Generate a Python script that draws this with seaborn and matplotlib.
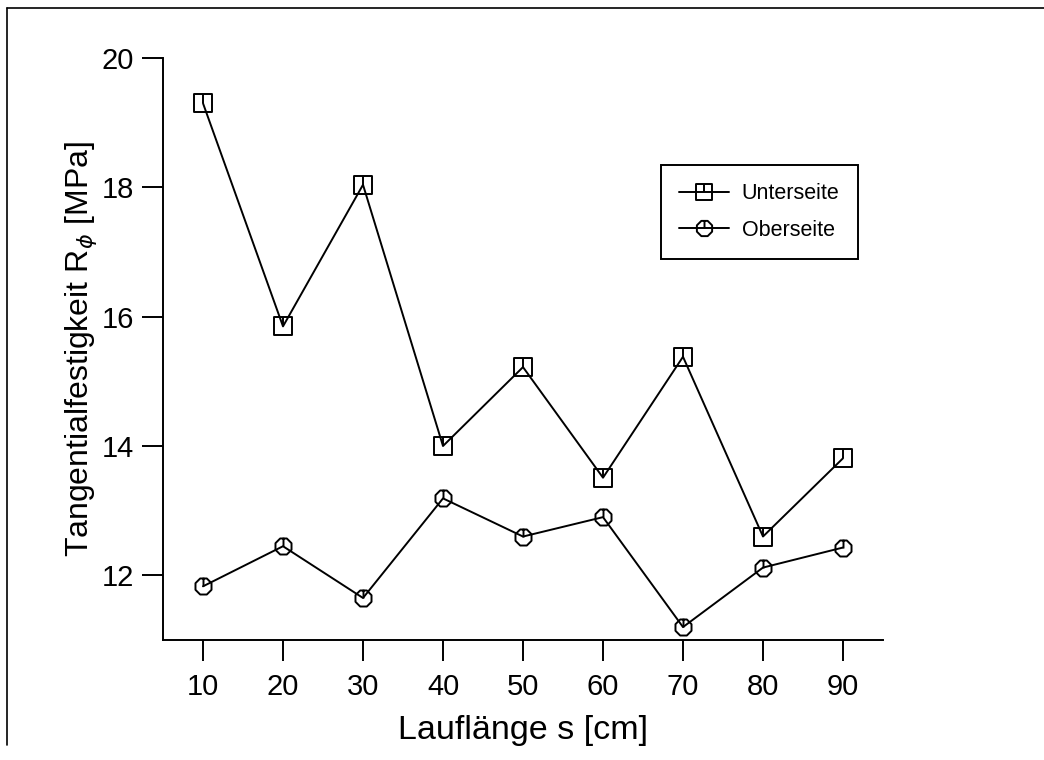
import numpy as np
import pandas as pd
import matplotlib
matplotlib.use("Agg")
import matplotlib.pyplot as plt
from matplotlib.path import Path
from matplotlib.lines import Line2D
import seaborn as sns

# Measured values
lauflaenge = [10, 20, 30, 40, 50, 60, 70, 80, 90]
unterseite = [19.30, 15.85, 18.04, 14.00, 15.22, 13.51, 15.38, 12.60, 13.81]
oberseite = [11.83, 12.45, 11.65, 13.19, 12.60, 12.90, 11.20, 12.12, 12.43]
series_names = ["Unterseite", "Oberseite"]
x_ticks = [10, 20, 30, 40, 50, 60, 70, 80, 90]
y_ticks = [12, 14, 16, 18, 20]

sns.set_style("ticks")
plt.rcParams["font.family"] = ["Liberation Sans", "DejaVu Sans"]
plt.rcParams["mathtext.fontset"] = "dejavusans"
plt.rcParams["text.color"] = "black"
plt.rcParams["axes.labelcolor"] = "black"
plt.rcParams["xtick.color"] = "black"
plt.rcParams["ytick.color"] = "black"
plt.rcParams["axes.edgecolor"] = "black"

# Open markers with a short stroke from the top edge to the centre
square_path = Path(
    [(-1, -1), (1, -1), (1, 1), (-1, 1), (-1, -1), (0, 1), (0, 0)],
    [Path.MOVETO, Path.LINETO, Path.LINETO, Path.LINETO, Path.CLOSEPOLY,
     Path.MOVETO, Path.LINETO],
)
theta = np.linspace(0, 2 * np.pi, 9)[:-1] + np.pi / 8
circ_verts = [(np.cos(t), np.sin(t)) for t in theta]
circle_path = Path(
    circ_verts + [circ_verts[0], (0, 1), (0, 0)],
    [Path.MOVETO] + [Path.LINETO] * (len(circ_verts) - 1)
    + [Path.CLOSEPOLY, Path.MOVETO, Path.LINETO],
)

df = pd.DataFrame({
    "s": lauflaenge * 2,
    "R": unterseite + oberseite,
    "Seite": [series_names[0]] * len(lauflaenge) + [series_names[1]] * len(lauflaenge),
})

fig = plt.figure(figsize=(10.44, 7.6), dpi=100)
ax = fig.add_axes([163 / 1044, 1 - 640 / 760, 720 / 1044, 582 / 760])

for name, mk in zip(series_names, [square_path, circle_path]):
    sub = df[df["Seite"] == name]
    sns.lineplot(data=sub, x="s", y="R", ax=ax, color="black", lw=1.4,
                 marker=mk, markersize=12.5, markerfacecolor="none",
                 markeredgecolor="black", markeredgewidth=1.4, label=name)

ax.set_xlim(5, 95)
ax.set_ylim(11, 20)
ax.set_xticks(x_ticks)
ax.set_yticks(y_ticks)
ax.tick_params(axis="both", direction="out", length=15, width=1.4,
               labelsize=21, color="black", labelcolor="black")
ax.tick_params(axis="x", pad=9)
ax.tick_params(axis="y", pad=6)
for side in ["top", "right"]:
    ax.spines[side].set_visible(False)
for side in ["left", "bottom"]:
    ax.spines[side].set_linewidth(1.4)
    ax.spines[side].set_color("black")

ax.set_xlabel("Lauflänge s [cm]", fontsize=24.5, labelpad=10, color="black")
ax.set_ylabel(r"Tangentialfestigkeit R$_{\phi}$ [MPa]", fontsize=23, labelpad=2,
              color="black")

leg = ax.legend(loc="upper right", bbox_to_anchor=(0.965, 0.816), borderaxespad=0,
                fontsize=15.5, frameon=True, fancybox=False, handlelength=2.3,
                markerscale=0.95, borderpad=0.85, labelspacing=0.72,
                handletextpad=0.6)
leg.get_frame().set_edgecolor("black")
leg.get_frame().set_linewidth(1.4)
leg.get_frame().set_alpha(1)
for t in leg.get_texts():
    t.set_color("black")

# Page frame along the left and top edges
fig.add_artist(Line2D([7 / 1044, 7 / 1044], [1 - 745 / 760, 1 - 8 / 760],
                      transform=fig.transFigure, color="black", lw=1.2))
fig.add_artist(Line2D([7 / 1044, 1.0], [1 - 8 / 760, 1 - 8 / 760],
                      transform=fig.transFigure, color="black", lw=1.2))

fig.savefig("out.png", dpi=100)
